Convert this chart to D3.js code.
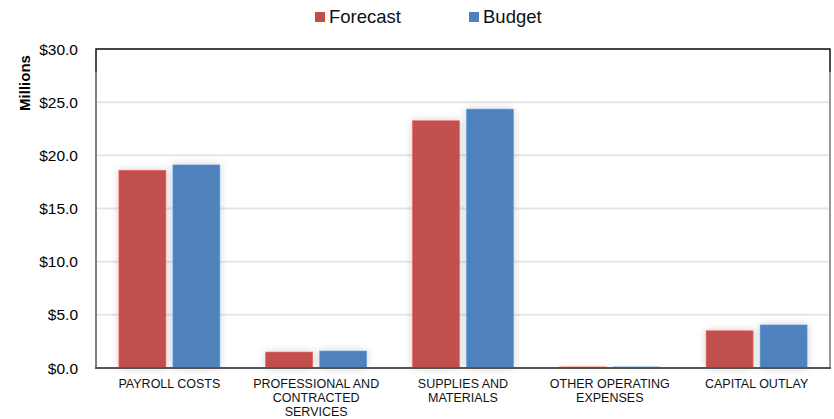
<!DOCTYPE html>
<html><head><meta charset="utf-8">
<script src="https://cdn.jsdelivr.net/npm/d3@7"></script>
<style>body{margin:0;background:#fff}svg{display:block;font-family:"Liberation Sans",Arial,sans-serif}</style>
</head><body>
<svg id="c" width="834" height="419"></svg>
<script>
const categories = [["PAYROLL COSTS"],["PROFESSIONAL AND","CONTRACTED","SERVICES"],["SUPPLIES AND","MATERIALS"],["OTHER OPERATING","EXPENSES"],["CAPITAL OUTLAY"]];
const seriesNames = ["Forecast","Budget"];
const forecast = [18.6, 1.5, 23.25, 0.1, 3.5];
const budget = [19.1, 1.6, 24.35, 0.1, 4.05];
const yTicks = [0,5,10,15,20,25,30];
const colors = ["#C0504D","#4F81BD"];

const svg = d3.select("#c");
const L=96, R=830, T=49, B=368;
const x = d3.scaleBand().domain(d3.range(categories.length)).range([L,R]).padding(0);
const y = d3.scaleLinear().domain([0,30]).range([B,T]);

const defs = svg.append("defs");
const f = defs.append("filter").attr("id","sh").attr("x","-30%").attr("y","-10%").attr("width","160%").attr("height","120%");
f.append("feGaussianBlur").attr("in","SourceAlpha").attr("stdDeviation",4).attr("result","b");
f.append("feOffset").attr("in","b").attr("dx",0).attr("dy",0).attr("result","o");
f.append("feComponentTransfer").attr("in","o").attr("result","o2").append("feFuncA").attr("type","linear").attr("slope",0.18);
const m = f.append("feMerge"); m.append("feMergeNode").attr("in","o2"); m.append("feMergeNode").attr("in","SourceGraphic");

// gridlines
svg.append("g").selectAll("line").data(yTicks.filter(d=>d>0)).join("line")
  .attr("x1",L).attr("x2",R).attr("y1",d=>y(d)).attr("y2",d=>y(d))
  .attr("stroke","#e6e6e6").attr("stroke-width",2);

// y ticks
svg.append("g").selectAll("text").data(yTicks).join("text")
  .attr("x",78).attr("y",d=>y(d)+5.5).attr("text-anchor","end")
  .attr("font-size",15.5).attr("fill","#000").text(d=>"$"+d.toFixed(1));

svg.append("text").attr("transform","translate(30,83) rotate(-90)").attr("text-anchor","middle")
  .attr("font-size",15).attr("font-weight","bold").text("Millions");

// bars
const bw=47, gap=7;
const data = [forecast,budget];
const gb = svg.append("g").attr("filter","url(#sh)");
data.forEach((s,si)=>{
  gb.selectAll(".b"+si).data(s).join("rect")
    .attr("x",(d,i)=>x(i)+x.bandwidth()/2 + (si===0? -bw-gap/2 : gap/2))
    .attr("width",bw)
    .attr("y",d=>y(d)).attr("height",d=>B-y(d))
    .attr("fill",colors[si]).attr("stroke",d3.color(colors[si]).brighter(0.6)).attr("stroke-width",0.6);
});

// frame
svg.append("path").attr("d",`M${L},72 V${T} H${R} V72`).attr("fill","none").attr("stroke","#111").attr("stroke-width",1.5);
svg.append("line").attr("x1",L).attr("x2",L).attr("y1",72).attr("y2",B).attr("stroke","#808080").attr("stroke-width",2);
svg.append("line").attr("x1",R).attr("x2",R).attr("y1",72).attr("y2",B).attr("stroke","#999").attr("stroke-width",2);
svg.append("line").attr("x1",L-1).attr("x2",R+1).attr("y1",B).attr("y2",B).attr("stroke","#555").attr("stroke-width",2);

// category labels
const cg = svg.append("g");
categories.forEach((lines,i)=>{
  const t = cg.append("text").attr("x",x(i)+x.bandwidth()/2).attr("y",388).attr("text-anchor","middle").attr("font-size",12.5).attr("fill","#111");
  lines.forEach((ln,j)=>t.append("tspan").attr("x",x(i)+x.bandwidth()/2).attr("dy",j===0?0:14).text(ln));
});

// legend
const leg = [{x:315},{x:469}];
seriesNames.forEach((n,i)=>{
  svg.append("rect").attr("x",leg[i].x).attr("y",12).attr("width",10).attr("height",10).attr("fill",colors[i]);
  svg.append("text").attr("x",leg[i].x+14).attr("y",23).attr("font-size",18.5).attr("fill","#111").text(n);
});
</script>
</body></html>
